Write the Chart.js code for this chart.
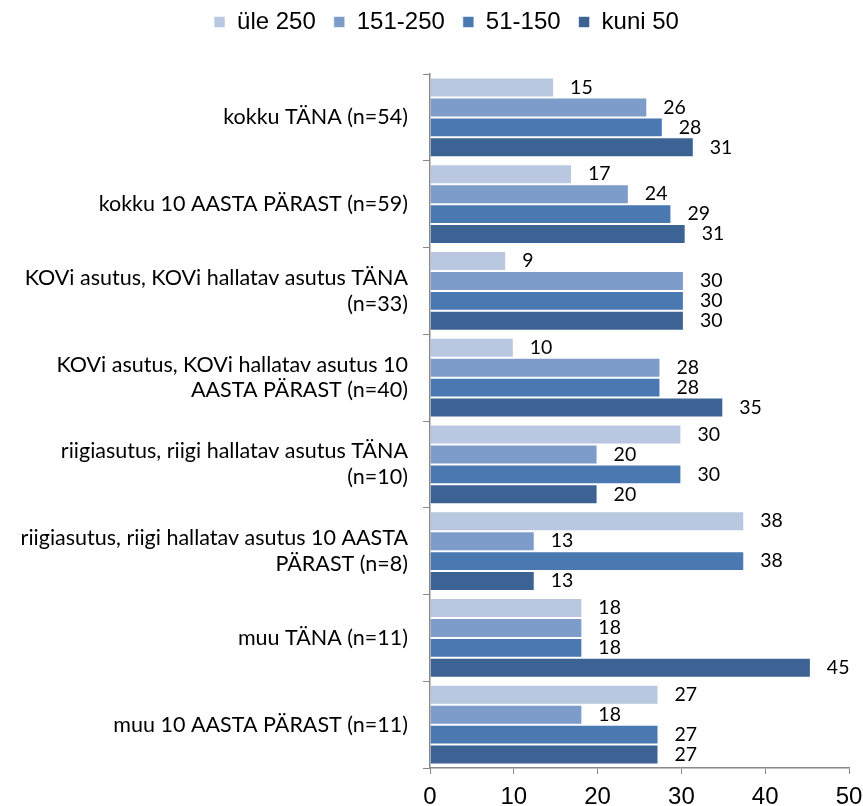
<!DOCTYPE html>
<html>
<head>
<meta charset="utf-8">
<script src="https://cdn.jsdelivr.net/npm/chart.js@4.4.0/dist/chart.umd.min.js"></script>
<style>
  html, body { margin: 0; padding: 0; background: #fff; }
  #wrap { width: 863px; height: 806px; }
</style>
</head>
<body>
<div id="wrap"><canvas id="chart"></canvas></div>
<script>
// Categories (top to bottom) and share of respondents per size group, %
const categories = [
  'kokku TÄNA (n=54)',
  'kokku 10 AASTA PÄRAST (n=59)',
  ['KOVi asutus, KOVi hallatav asutus TÄNA', '(n=33)'],
  ['KOVi asutus, KOVi hallatav asutus 10', 'AASTA PÄRAST (n=40)'],
  ['riigiasutus, riigi hallatav asutus TÄNA', '(n=10)'],
  ['riigiasutus, riigi hallatav asutus 10 AASTA', 'PÄRAST (n=8)'],
  'muu TÄNA (n=11)',
  'muu 10 AASTA PÄRAST (n=11)'
];
const seriesNames = ['üle 250', '151-250', '51-150', 'kuni 50'];
const ule250  = [14.81, 16.95, 9.09, 10, 30, 37.5, 18.18, 27.27];
const s151250 = [25.93, 23.73, 30.30, 27.5, 20, 12.5, 18.18, 18.18];
const s51150  = [27.78, 28.81, 30.30, 27.5, 30, 37.5, 18.18, 27.27];
const kuni50  = [31.48, 30.51, 30.30, 35, 20, 12.5, 45.45, 27.27];
const xTicks = [0, 10, 20, 30, 40, 50];

const colors = ['#B9C7E1', '#7E9CC9', '#4A79B2', '#3D6394'];
const seriesData = [ule250, s151250, s51150, kuni50];

const labelFont = '"Lato", "Open Sans", sans-serif';
const axisFont = '"Liberation Sans", Arial, sans-serif';

// value labels to the right of each bar
const valueLabels = {
  id: 'valueLabels',
  afterDatasetsDraw(chart) {
    const ctx = chart.ctx;
    ctx.save();
    ctx.fillStyle = '#000';
    ctx.font = '19.5px ' + labelFont;
    ctx.textAlign = 'left';
    ctx.textBaseline = 'middle';
    chart.data.datasets.forEach((ds, i) => {
      chart.getDatasetMeta(i).data.forEach((bar, j) => {
        ctx.fillText(Math.round(ds.data[j]), bar.x + 16, bar.y);
      });
    });
    ctx.restore();
  }
};

// more room under the legend, and nudge it a little to the right
const legendPlace = {
  id: 'legendPlace',
  beforeInit(chart) {
    const fit = chart.legend.fit;
    chart.legend.fit = function () {
      fit.bind(chart.legend)();
      this.height += 30;
    };
  },
  afterLayout(chart) {
    chart.legend.left += 22;
    chart.legend.right += 22;
  }
};

new Chart(document.getElementById('chart'), {
  type: 'bar',
  data: {
    labels: categories,
    datasets: seriesNames.map((name, i) => ({
      label: name,
      data: seriesData[i],
      backgroundColor: colors[i],
      borderColor: 'rgba(255,255,255,0.55)',
      borderWidth: 1,
      barPercentage: 1,
      categoryPercentage: 0.92
    }))
  },
  options: {
    indexAxis: 'y',
    responsive: true,
    maintainAspectRatio: false,
    animation: false,
    layout: { padding: { left: 0, right: 14, top: -8, bottom: 0 } },
    plugins: {
      legend: {
        position: 'top',
        labels: {
          color: '#000',
          font: { family: axisFont, size: 24 },
          boxWidth: 11,
          boxHeight: 11,
          padding: 18
        }
      },
      tooltip: { enabled: false }
    },
    scales: {
      x: {
        min: 0,
        max: 50,
        afterBuildTicks(scale) { scale.ticks = xTicks.map(v => ({ value: v })); },
        afterFit(scale) { scale.height = 38; scale.paddingRight = 0; },
        ticks: {
          color: '#000',
          font: { family: axisFont, size: 24 },
          padding: 9
        },
        grid: { drawOnChartArea: false, tickLength: 6, color: '#888' },
        border: { color: '#888', width: 1.5 }
      },
      y: {
        afterFit(scale) { scale.width = 430; },
        ticks: {
          color: '#000',
          font: { family: labelFont, size: 21.5 },
          padding: 15,
          autoSkip: false
        },
        grid: { drawOnChartArea: false, tickLength: 7, color: '#888', offset: true },
        border: { color: '#888', width: 1.5 }
      }
    }
  },
  plugins: [valueLabels, legendPlace]
});
</script>
</body>
</html>
